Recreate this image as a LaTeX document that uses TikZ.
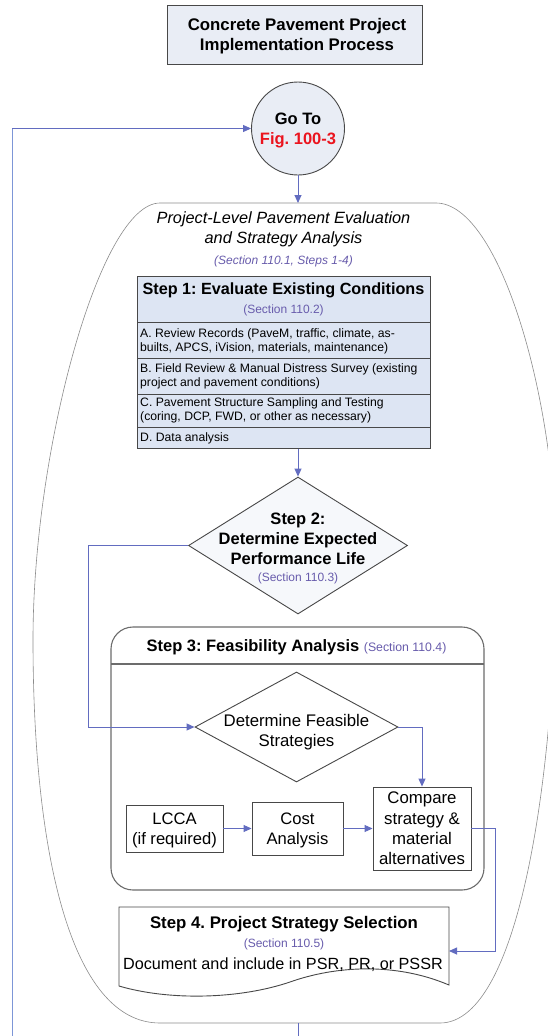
\documentclass[tikz,border=0pt]{standalone}
\usepackage{fontspec}
\setmainfont{Liberation Sans}
\usetikzlibrary{shapes.geometric,arrows.meta}
\definecolor{conn}{RGB}{98,108,192}
\definecolor{loopc}{RGB}{125,150,215}
\definecolor{sect}{RGB}{104,92,172}
\definecolor{boxfill}{RGB}{221,229,243}
\definecolor{titlefill}{RGB}{233,237,245}
\definecolor{edge}{RGB}{72,72,72}
\definecolor{figred}{RGB}{235,20,30}
\tikzset{
  bigt/.style={font=\fontsize{16.5}{20}\selectfont, anchor=base, inner sep=0pt},
  bigbt/.style={font=\fontsize{16.5}{20}\selectfont\bfseries, anchor=base, inner sep=0pt},
  smallt/.style={font=\fontsize{12.2}{14}\selectfont, anchor=base west, inner sep=0pt},
  sectt/.style={font=\fontsize{12}{14}\selectfont, text=sect, anchor=base, inner sep=0pt},
  plainbox/.style={draw=edge, line width=0.9pt, fill=white, inner sep=0pt},
  connector/.style={draw=conn, line width=0.9pt, -{Triangle[length=8pt,width=7pt]}},
  plainline/.style={draw=conn, line width=0.9pt},
  loopline/.style={draw=loopc, line width=0.9pt},
  outline/.style={draw=gray!90, line width=0.6pt}
}
\frenchspacing
\begin{document}
\frenchspacing
\begin{tikzpicture}[x=1pt,y=-1pt]
\clip (0,0) rectangle (548,1036);
\fill[white] (0,0) rectangle (548,1036);

% outer evaluation shape
\coordinate (bigtop) at (298,203);
\coordinate (bigbot) at (298,1023);
\draw[outline] (160,203) -- (436,203)
  .. controls (500,203) and (556,400) .. (556,560)
  .. controls (556,760) and (522,1023) .. (440,1023)
  -- (160,1023)
  .. controls (70,1023) and (33,850) .. (33,640)
  .. controls (33,450) and (100,203) .. (160,203) -- cycle;

% title
\node[draw=edge, line width=1pt, fill=titlefill, minimum width=255pt, minimum height=59pt, inner sep=0pt] (title) at (294.5,34.5) {};
\node[font=\fontsize{16.8}{19}\selectfont\bfseries, anchor=base, inner sep=0pt] (title1) at (297,30.5) {Concrete Pavement Project};
\node[font=\fontsize{16.8}{19}\selectfont\bfseries, anchor=base, inner sep=0pt] (title2) at (297,50) {Implementation Process};

% go to circle
\node[circle, draw=edge, line width=0.9pt, fill=titlefill, minimum size=93pt, inner sep=0pt] (go) at (298,128.5) {};
\node[bigbt] (go1) at (298,124) {Go To};
\node[bigbt, text=figred] (go2) at (298,144) {Fig. 100-3};

% evaluation title
\node[font=\fontsize{16.3}{20}\selectfont\itshape, anchor=base, inner sep=0pt] (ev1) at (283.5,223) {Project-Level Pavement Evaluation};
\node[font=\fontsize{16.3}{20}\selectfont\itshape, anchor=base, inner sep=0pt] (ev2) at (283.5,243) {and Strategy Analysis};
\node[sectt, font=\fontsize{12}{14}\selectfont\itshape] (ev3) at (283.5,264) {(Section 110.1, Steps 1-4)};

% step 1
\node[draw=edge, line width=1pt, fill=boxfill, minimum width=293pt, minimum height=172pt, inner sep=0pt] (s1) at (283.5,362) {};
\draw[draw=edge, line width=0.9pt] (137,322) -- (430,322);
\draw[draw=edge, line width=0.9pt] (137,358) -- (430,358);
\draw[draw=edge, line width=0.9pt] (137,394.5) -- (430,394.5);
\draw[draw=edge, line width=0.9pt] (137,427) -- (430,427);
\node[font=\fontsize{16.2}{20}\selectfont\bfseries, anchor=base, inner sep=0pt] (s1h) at (283.5,294) {Step 1: Evaluate Existing Conditions};
\node[sectt] (s1s) at (283.5,313) {(Section 110.2)};
\node[smallt] (ra1) at (140,337.5) {A. Review Records (PaveM, traffic, climate, as-};
\node[smallt] (ra2) at (140,351.5) {builts, APCS, iVision, materials, maintenance)};
\node[smallt] (rb1) at (140,372) {B. Field Review \& Manual Distress Survey (existing};
\node[smallt] (rb2) at (140,386.5) {project and pavement conditions)};
\node[smallt] (rc1) at (140,406.5) {C. Pavement Structure Sampling and Testing};
\node[smallt] (rc2) at (140,420.5) {(coring, DCP, FWD, or other as necessary)};
\node[smallt] (rd1) at (140,441.5) {D. Data analysis};

% step 2 diamond
\node[diamond, draw=edge, line width=0.9pt, fill=titlefill!40, minimum width=219pt, minimum height=137pt, inner sep=0pt] (d1) at (298,545.5) {};
\node[bigbt] (d1a) at (298,524) {Step 2:};
\node[bigbt] (d1b) at (298,544) {Determine Expected};
\node[bigbt] (d1c) at (298,564) {Performance Life};
\node[sectt] (d1d) at (298,581.5) {(Section 110.3)};

% step 3 container
\node[draw=gray!85!black, line width=1.1pt, rounded corners=22pt, minimum width=373pt, minimum height=263pt, inner sep=0pt] (s3) at (297.5,758.5) {};
\draw[draw=gray!85!black, line width=1.1pt] (111,664) -- (484,664);
\node[font=\fontsize{16.5}{20}\selectfont, anchor=base, inner sep=0pt] (s3h) at (296.5,651) {\textbf{Step 3: Feasibility Analysis} {\fontsize{12.3}{14}\selectfont\color{sect}(Section 110.4)}};

\node[diamond, draw=edge, line width=0.9pt, fill=white, minimum width=203pt, minimum height=110pt, inner sep=0pt] (d2) at (296.5,727) {};
\node[bigt, font=\fontsize{16.8}{20}\selectfont] (d2a) at (296.5,726) {Determine Feasible};
\node[bigt, font=\fontsize{16.8}{20}\selectfont] (d2b) at (296.5,746) {Strategies};

\node[plainbox, minimum width=97pt, minimum height=47pt] (lcca) at (174.5,828.5) {};
\node[bigt, font=\fontsize{16.6}{20}\selectfont] (lcca1) at (174.5,824) {LCCA};
\node[bigt, font=\fontsize{16.6}{20}\selectfont] (lcca2) at (174.5,844) {(if required)};

\node[plainbox, minimum width=91pt, minimum height=53pt] (cost) at (297.5,828.5) {};
\node[bigt, font=\fontsize{16.6}{20}\selectfont] (cost1) at (297.5,824) {Cost};
\node[bigt, font=\fontsize{16.6}{20}\selectfont] (cost2) at (297.5,844) {Analysis};

\node[plainbox, minimum width=98pt, minimum height=83pt] (cmp) at (422,828.5) {};
\node[bigt, font=\fontsize{16.8}{20}\selectfont] (cmp1) at (422,803) {Compare};
\node[bigt, font=\fontsize{16.8}{20}\selectfont] (cmp2) at (422,824) {strategy \&};
\node[bigt, font=\fontsize{16.8}{20}\selectfont] (cmp3) at (422,844) {material};
\node[bigt, font=\fontsize{16.8}{20}\selectfont] (cmp4) at (422,864) {alternatives};

% step 4 document
\node[inner sep=0pt, minimum width=330pt, minimum height=78pt] (s4) at (284,946) {};
\draw[draw=edge, line width=0.9pt, fill=white] (119,907) -- (449,907) -- (449,985)
  .. controls (395,962) and (335,966) .. (290,982)
  .. controls (240,999) and (170,1001) .. (119,986) -- cycle;
\node[font=\fontsize{16.8}{20}\selectfont\bfseries, anchor=base, inner sep=0pt] (s4a) at (284,928) {Step 4. Project Strategy Selection};
\node[sectt] (s4b) at (284,947) {(Section 110.5)};
\node[font=\fontsize{16.2}{20}\selectfont, anchor=base, inner sep=0pt] (s4c) at (283,969) {Document and include in PSR, PR, or PSSR};
\coordinate (s4in) at (449,951);

% connectors
\coordinate (loopbot) at (12,1036);
\coordinate (outbot) at (298,1036);
\draw[loopline] (loopbot) -- (12,128.5);
\draw[connector] (12,128.5) -- (go.west);
\draw[connector] (go.south) -- (bigtop);
\draw[plainline] (bigbot) -- (outbot);
\draw[connector] (s1.south -| d1.north) -- (d1.north);
\draw[connector] (d1.west) -- (88,545.5) -- (88,727) -- (d2.west);
\draw[connector] (d2.east) -- (422,727) -- (cmp.north);
\draw[connector] (lcca.east) -- (cost.west);
\draw[connector] (cost.east) -- (cmp.west);
\draw[connector] (cmp.east) -- (495,828.5) -- (495,951) -- (s4in);
\end{tikzpicture}
\end{document}
